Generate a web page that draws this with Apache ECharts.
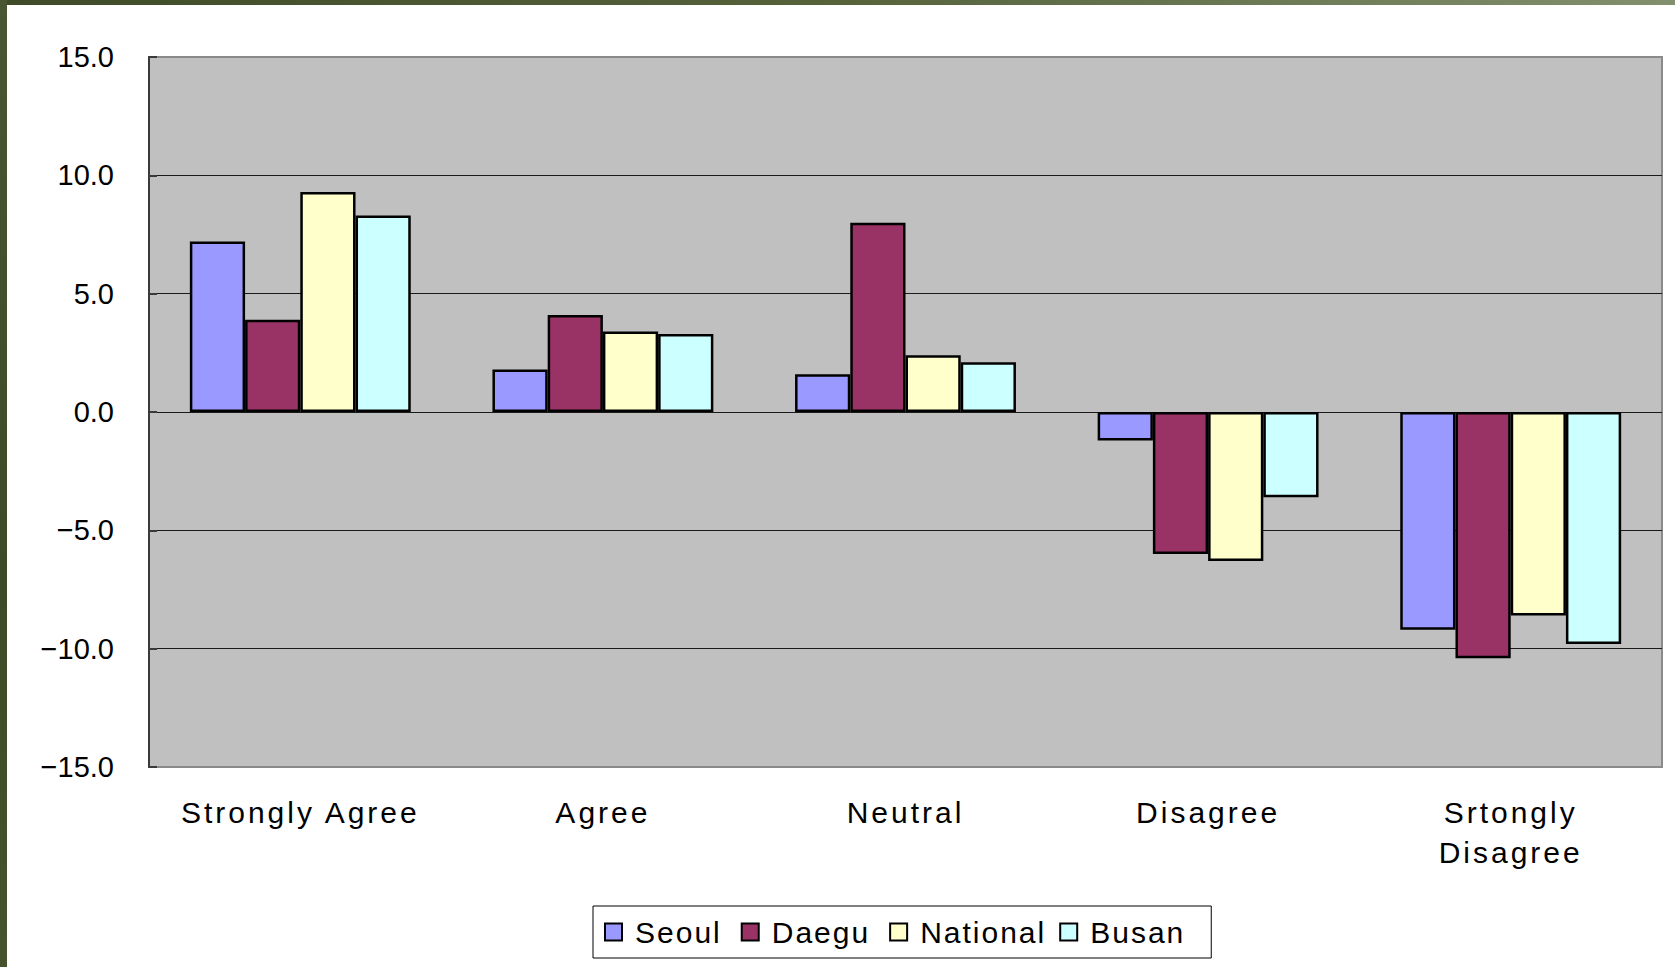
<!DOCTYPE html>
<html>
<head>
<meta charset="utf-8">
<script src="https://cdn.jsdelivr.net/npm/echarts@6/dist/echarts.min.js"></script>
<style>
  html, body { margin: 0; padding: 0; background: #fff; }
  #wrap { position: relative; width: 1675px; height: 967px; overflow: hidden; }
  #chart { position: absolute; left: 0; top: 0; width: 1675px; height: 967px; }
  #chart text { letter-spacing: 3px; }
  #chart text[text-anchor="start"] { letter-spacing: 2px; }
  #chart text[text-anchor="end"] { letter-spacing: 0; }
  .edge-top { position: absolute; left: 0; top: 0; width: 1675px; height: 5px;
    background: linear-gradient(to right, #3f4b28, #55623a 50%, #82906e); }
  .edge-left { position: absolute; left: 0; top: 0; width: 7px; height: 967px;
    background: linear-gradient(to bottom, #4a5632, #3e4a25 60%, #46532c); }
</style>
</head>
<body>
<div id="wrap">
  <div id="chart"></div>
  <div class="edge-top"></div>
  <div class="edge-left"></div>
</div>
<script>
const categories = ['Strongly Agree', 'Agree', 'Neutral', 'Disagree', 'Srtongly\nDisagree'];
const seriesNames = ['Seoul', 'Daegu', 'National', 'Busan'];
const seoul = [7.2, 1.8, 1.6, -1.2, -9.2];
const daegu = [3.9, 4.1, 8.0, -6.0, -10.4];
const national = [9.3, 3.4, 2.4, -6.3, -8.6];
const busan = [8.3, 3.3, 2.1, -3.6, -9.8];
const yTickLabels = ['\u221215.0', '\u221210.0', '\u22125.0', '0.0', '5.0', '10.0', '15.0'];

const colors = ['#9999FF', '#993366', '#FFFFCC', '#CCFFFF'];
const values = [seoul, daegu, national, busan];

const myChart = echarts.init(document.getElementById('chart'), null, { renderer: 'svg' });

const option = {
  backgroundColor: '#fff',
  animation: false,
  textStyle: { fontFamily: "'Liberation Sans', Arial, sans-serif", color: '#000' },
  grid: {
    left: 149,
    right: 13,
    top: 57,
    bottom: 200,
    show: true,
    backgroundColor: '#C0C0C0',
    borderColor: '#8a8a8a',
    borderWidth: 2
  },
  legend: {
    left: 593,
    top: 906,
    orient: 'horizontal',
    padding: [11, 36, 11, 11],
    itemGap: 29,
    itemWidth: 17,
    itemHeight: 17,
    icon: 'rect',
    backgroundColor: '#fff',
    borderColor: '#000',
    borderWidth: 1,
    borderRadius: 0,
    textStyle: {
      fontSize: 30,
      lineHeight: 30,
      color: '#000',
      padding: [0, 0, 0, 8]
    },
    data: seriesNames
  },
  xAxis: {
    type: 'category',
    data: categories,
    axisLine: { show: false, onZero: false },
    axisTick: { show: false },
    axisLabel: {
      fontSize: 30,
      lineHeight: 40,
      margin: 25,
      color: '#000',
      interval: 0
    },
    splitLine: { show: false }
  },
  yAxis: {
    type: 'value',
    min: -15,
    max: 15,
    interval: 5,
    axisLine: { show: true, lineStyle: { color: '#3a3a3a', width: 2 } },
    axisTick: { show: true, inside: true, length: 8, lineStyle: { color: '#3a3a3a', width: 2 } },
    axisLabel: {
      fontSize: 29,
      margin: 35,
      color: '#000',
      formatter: (v) => yTickLabels[Math.round((v + 15) / 5)]
    },
    splitLine: {
      show: true,
      showMinLine: false,
      showMaxLine: false,
      lineStyle: { color: '#1a1a1a', width: 1 }
    }
  },
  series: seriesNames.map((name, i) => ({
    name: name,
    type: 'bar',
    barGap: 0,
    barCategoryGap: '27%',
    itemStyle: {
      color: colors[i],
      borderColor: '#000',
      borderWidth: 2.5
    },
    data: values[i]
  }))
};

option && myChart.setOption(option);
</script>
</body>
</html>
